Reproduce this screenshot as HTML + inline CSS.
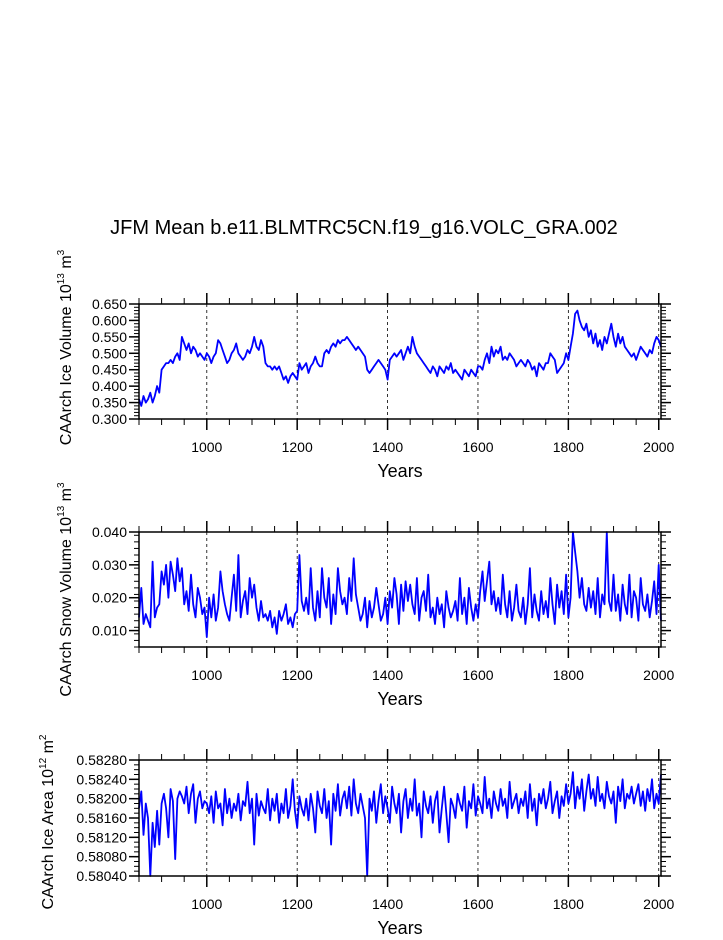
<!DOCTYPE html>
<html><head><meta charset="utf-8"><style>
body{margin:0;background:#fff;}
svg text{font-family:"Liberation Sans",Arial,sans-serif;fill:#000;}
</style></head><body>
<svg id="c" width="723" height="935" viewBox="0 0 723 935">
<text x="364" y="234" font-size="20" text-anchor="middle">JFM Mean b.e11.BLMTRC5CN.f19_g16.VOLC_GRA.002</text>
</svg>
<script>
const startYear = 850;
const stepYears = 5;
const iceVolume = [.36,.34,.37,.35,.36,.38,.35,.37,.40,.38,
.45,.46,.47,.47,.48,.47,.49,.50,.48,.55,
.53,.51,.53,.50,.52,.51,.49,.50,.49,.48,
.50,.49,.47,.49,.50,.54,.53,.51,.49,.47,
.48,.50,.51,.53,.50,.49,.48,.49,.51,.50,
.52,.55,.52,.51,.54,.52,.47,.46,.46,.45,
.46,.45,.46,.44,.42,.43,.41,.43,.44,.43,
.42,.47,.45,.46,.47,.44,.46,.47,.49,.47,
.46,.46,.50,.51,.50,.52,.53,.52,.54,.53,
.54,.54,.55,.54,.53,.52,.51,.52,.51,.50,
.49,.45,.44,.45,.46,.47,.48,.47,.46,.45,
.42,.48,.49,.50,.49,.50,.51,.48,.50,.52,
.50,.55,.52,.50,.49,.48,.47,.46,.45,.44,
.46,.45,.43,.46,.45,.44,.46,.45,.47,.44,
.45,.44,.43,.42,.45,.44,.43,.45,.44,.43,
.46,.46,.45,.48,.50,.47,.52,.49,.51,.50,
.52,.48,.49,.48,.50,.49,.48,.46,.47,.48,
.47,.46,.48,.47,.45,.46,.43,.47,.46,.45,
.47,.47,.50,.49,.48,.44,.45,.46,.47,.50,
.48,.52,.56,.62,.63,.60,.58,.57,.59,.55,
.57,.53,.56,.52,.54,.51,.55,.53,.56,.59,
.55,.52,.56,.53,.55,.52,.51,.50,.49,.50,
.48,.50,.52,.51,.50,.49,.51,.50,.53,.55,
.54,.52];
const snowVolumeMilli = [14,23,12,15,13,11,31,14,17,18,
28,24,30,20,31,27,22,32,25,29,
18,22,16,27,18,14,23,20,15,17,
8,20,14,21,13,17,28,22,18,15,
13,20,27,16,33,14,19,22,15,26,
20,24,17,13,19,14,15,13,16,11,
14,9,16,13,15,18,12,14,11,15,
16,33,19,16,20,15,29,17,13,22,
14,29,20,17,26,12,21,15,29,22,
18,20,15,26,19,32,21,17,13,15,
20,11,19,14,17,23,18,13,15,20,
12,22,17,26,21,12,24,16,25,19,
24,18,15,26,13,20,22,16,27,14,
17,12,20,15,18,11,22,17,14,16,
19,13,26,15,20,12,23,17,13,18,
14,22,28,19,25,31,18,22,16,20,
15,27,18,14,22,13,17,24,16,14,
20,12,18,29,14,21,16,13,22,15,
19,14,26,18,12,24,17,22,15,27,
14,20,40,34,28,20,26,18,16,23,
17,22,15,26,14,21,18,40,19,16,
27,16,21,13,24,18,15,27,14,22,
20,13,26,18,16,21,14,19,25,15,
30,13];
const iceAreaOffset = [180,215,125,190,160,40,150,100,175,105,
190,210,180,120,220,195,75,200,215,205,
190,225,170,210,230,150,200,215,180,195,
190,170,205,150,215,180,190,145,220,170,
200,160,190,175,210,155,195,185,235,170,
200,105,210,165,195,180,170,220,155,200,
175,210,150,190,170,220,160,185,240,175,
140,205,180,165,200,155,210,180,130,215,
185,170,220,160,195,105,210,175,230,165,
200,215,180,225,165,240,190,170,210,185,
160,40,200,175,215,150,195,230,170,205,
180,150,225,190,170,210,130,195,220,160,
200,175,240,165,190,120,215,185,170,205,
150,195,215,130,180,225,170,110,200,185,
160,210,190,175,225,140,195,180,230,165,
205,190,170,245,180,200,160,215,190,175,
220,185,200,160,235,180,195,210,170,200,
185,215,160,230,175,200,145,210,190,220,
180,200,235,170,195,215,160,205,185,230,
190,210,255,180,225,200,240,175,215,250,
200,220,185,245,195,210,180,235,205,190,
215,150,225,195,240,180,210,200,225,190,
210,230,185,215,175,220,195,240,180,210,
190,250];
const xTicks = [1000,1200,1400,1600,1800,2000];
const volTicks = ["0.300","0.350","0.400","0.450","0.500","0.550","0.600","0.650"];
const snowTicks = ["0.010","0.020","0.030","0.040"];
const areaTicks = ["0.58040","0.58080","0.58120","0.58160","0.58200","0.58240","0.58280"];

const NS = "http://www.w3.org/2000/svg";
const svg = document.getElementById('c');
const L = 139, R = 661, xMin = 850, xMax = 2005;
function xs(y){ return L + (y - xMin) / (xMax - xMin) * (R - L); }
function mk(tag, attrs, parent){ const e = document.createElementNS(NS, tag); for (const k in attrs) e.setAttribute(k, attrs[k]); (parent||svg).appendChild(e); return e; }

function panel(cfg){
  const g = mk('g', {});
  
  
  const T = cfg.top, B = cfg.bottom;
  const ys = v => B - (v - cfg.yMin) / (cfg.yMax - cfg.yMin) * (B - T);
  xTicks.forEach(t => {
    const gl = mk('line', {x1: xs(t), x2: xs(t), y1: T, y2: B, stroke: '#000', 'stroke-width': 0.8, 'stroke-dasharray': '3,3'}, g);
    
    
  });
  let d = '';
  cfg.values.forEach((v, i) => { const yr = startYear + stepYears * i; d += (i ? 'L' : 'M') + xs(yr).toFixed(1) + ',' + ys(cfg.conv(v)).toFixed(1); });
  const p = mk('path', {d: d, fill: 'none', stroke: '#0000ff', 'stroke-width': 1.8, 'stroke-linejoin': 'round'}, g);
  
  
  const bx = mk('rect', {x: L, y: T, width: R - L, height: B - T, fill: 'none', stroke: '#000', 'stroke-width': 1.5}, g);
  
  
  for (let yr = 850; yr <= 2000; yr += 50) {
    const maj = yr % 200 === 0;
    const len = maj ? 11 : 6;
    const x = xs(yr);
    mk('line', {x1: x, x2: x, y1: T, y2: T - len, stroke: '#000', 'stroke-width': maj ? 1.5 : 1}, g);
    mk('line', {x1: x, x2: x, y1: B, y2: B + len, stroke: '#000', 'stroke-width': maj ? 1.5 : 1}, g);
  }
  xTicks.forEach(t => {
    const tl = mk('text', {x: xs(t), y: B + 33, 'font-size': 14, 'text-anchor': 'middle'}, g);
    tl.textContent = t;
    
    
  });
  for (let v = cfg.yMin; v <= cfg.yMax + 1e-9; v += cfg.minor) {
    const y = ys(v);
    mk('line', {x1: L, x2: L - 5, y1: y, y2: y, stroke: '#000', 'stroke-width': 1}, g);
    mk('line', {x1: R, x2: R + 5, y1: y, y2: y, stroke: '#000', 'stroke-width': 1}, g);
  }
  cfg.ticks.forEach(s => {
    const y = ys(parseFloat(s));
    mk('line', {x1: L, x2: L - 10, y1: y, y2: y, stroke: '#000', 'stroke-width': 1.5}, g);
    mk('line', {x1: R, x2: R + 10, y1: y, y2: y, stroke: '#000', 'stroke-width': 1.5}, g);
    const tl = mk('text', {x: L - 12, y: y + 5, 'font-size': 14, 'text-anchor': 'end'}, g);
    tl.textContent = s;
    
    
  });
  const xt = mk('text', {x: 400, y: B + 58, 'font-size': 18, 'text-anchor': 'middle'}, g);
  xt.textContent = 'Years';
  
  
  const cy = (T + B) / 2 + cfg.labelShift;
  const yt = mk('text', {x: 0, y: 0, 'font-size': 16, 'text-anchor': 'middle', transform: 'translate(' + cfg.labelX + ',' + cy + ') rotate(-90)'}, g);
  yt.innerHTML = cfg.label + ' 10<tspan dy="-7" font-size="10">' + cfg.exp + '</tspan><tspan dy="7"> m</tspan><tspan dy="-7" font-size="10">' + cfg.unitExp + '</tspan>';
  
  
}

panel({name: 'ice-volume', top: 304, bottom: 419, yMin: 0.30, yMax: 0.65, minor: 0.01, ticks: volTicks, values: iceVolume, conv: v => v, label: 'CAArch Ice Volume', exp: '13', unitExp: '3', labelX: 71, labelShift: -14});
panel({name: 'snow-volume', top: 532, bottom: 647, yMin: 0.005, yMax: 0.040, minor: 0.002, ticks: snowTicks, values: snowVolumeMilli, conv: v => v / 1000, label: 'CAArch Snow Volume', exp: '13', unitExp: '3', labelX: 71, labelShift: 0});
panel({name: 'ice-area', top: 760, bottom: 876, yMin: 0.5804, yMax: 0.5828, minor: 0.0001, ticks: areaTicks, values: iceAreaOffset, conv: v => 0.58 + v * 1e-5, label: 'CAArch Ice Area', exp: '12', unitExp: '2', labelX: 53, labelShift: 4});
</script>
</body></html>
